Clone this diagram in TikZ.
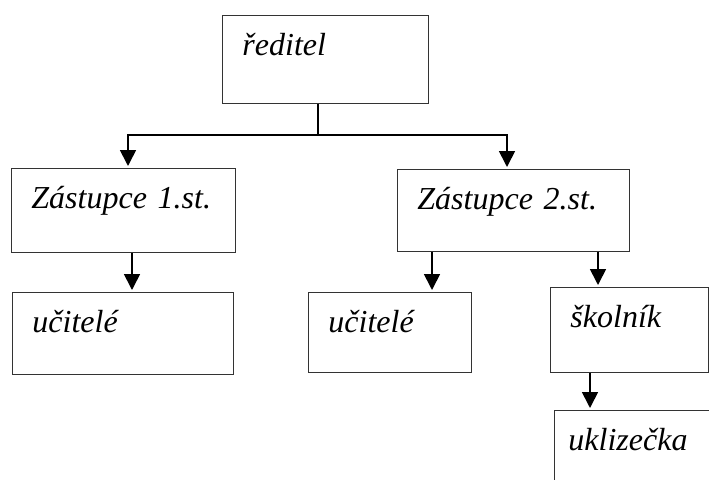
\documentclass[tikz,border=0pt]{standalone}
\usepackage{fontspec}
\newfontfamily\orgfont{LiberationSerif-Italic.ttf}
\usetikzlibrary{arrows.meta}
\tikzstyle{orgBox} = [draw=black!80, line width=0.9pt, rectangle, anchor=north west,
   inner xsep=20pt, inner ysep=0pt, text height=40pt, align=left,
   font=\orgfont\fontsize{32}{38}\selectfont]
\tikzstyle{downArrow} = [line width=1.7pt, -{Triangle[width=16pt,length=16pt]}, shorten >=2pt]
\begin{document}
\begin{tikzpicture}[x=1pt, y=-1pt]
  \useasboundingbox (0,0) rectangle (709,479);

  \node[orgBox, text width=166pt, text depth=48pt] (dir) at (222,15) {ředitel};
  \node[orgBox, text width=184pt, text depth=44pt] (zastA) at (11,168) {Zástupce 1.st.};
  \node[orgBox, text width=192pt, text depth=42pt] (zastB) at (397,169) {Zástupce 2.st.};
  \node[orgBox, text width=181pt, text depth=42pt] (ucitA) at (12,292) {učitelé};
  \node[orgBox, text width=123pt, text depth=40pt] (ucitB) at (308,292) {učitelé};
  \node[orgBox, text width=118pt, text depth=45pt] (skol) at (550,287) {školník};
  \node[orgBox, inner xsep=14pt, text width=142pt, text depth=45pt] (ukl) at (554,410) {uklizečka};

  % split under the director
  \coordinate (split) at (318,135);
  \draw[line width=1.7pt] ([xshift=96pt]dir.south west) -- (split);
  \draw[downArrow] (split) -| ([xshift=117pt]zastA.north west);
  \draw[downArrow] (split) -| ([xshift=110pt]zastB.north west);

  % lower levels
  \coordinate (fromA) at ([xshift=121pt]zastA.south west);
  \coordinate (fromB) at ([xshift=35pt]zastB.south west);
  \coordinate (fromC) at ([xshift=201pt]zastB.south west);
  \coordinate (fromS) at ([xshift=40pt]skol.south west);
  \draw[downArrow] (fromA) -- (fromA |- ucitA.north);
  \draw[downArrow] (fromB) -- (fromB |- ucitB.north);
  \draw[downArrow] (fromC) -- (fromC |- skol.north);
  \draw[downArrow] (fromS) -- (fromS |- ukl.north);
\end{tikzpicture}
\end{document}
